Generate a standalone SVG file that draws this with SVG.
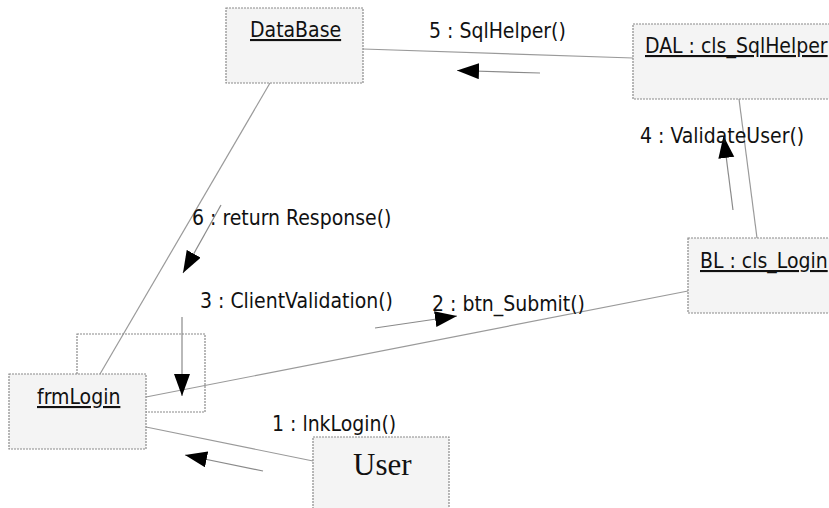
<svg xmlns="http://www.w3.org/2000/svg" width="829" height="508" viewBox="0 0 829 508">
<style>
.bg{fill:#ffffff}
.box{fill:#f4f4f4;stroke:#8a8a8a;stroke-width:1.2;stroke-dasharray:2 1}
.loop{fill:none;stroke:#8a8a8a;stroke-width:1.2;stroke-dasharray:2 1}
.ln{fill:none;stroke:#9a9a9a;stroke-width:1.2}
.msg{fill:none;stroke:#8a8a8a;stroke-width:1.2;marker-end:url(#ah)}
.t{font-family:"DejaVu Sans Condensed","DejaVu Sans",sans-serif;font-size:21px;fill:#111}
.u{text-decoration:underline}
.s{font-family:"Liberation Serif","Times New Roman",serif;font-size:31px;fill:#111}
</style>
<defs>
<marker id="ah" markerUnits="userSpaceOnUse" markerWidth="23" markerHeight="17" refX="22" refY="8" orient="auto">
<path d="M0,0 L22,8 L0,16 Z" fill="#000"/>
</marker>
</defs>
<rect class="bg" width="829" height="508"/>
<g id="connectors">
<line class="ln" x1="363" y1="49" x2="633" y2="58"/>
<line class="ln" x1="739" y1="99" x2="757" y2="238"/>
<line class="ln" x1="688" y1="291" x2="146" y2="397"/>
<line class="ln" x1="270" y1="83" x2="100" y2="374"/>
<line class="ln" x1="146" y1="427" x2="313" y2="461"/>
<rect class="loop" x="77" y="334" width="128" height="78"/>
<line class="msg" x1="540" y1="73" x2="457" y2="70.5"/>
<line class="msg" x1="733" y1="210" x2="723.5" y2="136"/>
<line class="msg" x1="221" y1="205" x2="183" y2="273"/>
<line class="msg" x1="182" y1="317" x2="182" y2="396"/>
<line class="msg" x1="375" y1="328" x2="457" y2="316"/>
<line class="msg" x1="263" y1="471" x2="185" y2="455"/>
<text class="t" x="429" y="38">5 : SqlHelper()</text>
<text class="t" x="640" y="143">4 : ValidateUser()</text>
<text class="t" x="192" y="225">6 : return Response()</text>
<text class="t" x="200" y="308">3 : ClientValidation()</text>
<text class="t" x="432" y="311">2 : btn_Submit()</text>
<text class="t" x="272" y="431">1 : lnkLogin()</text>
</g>
<g id="DataBase">
<rect class="box" x="226" y="8" width="137" height="75"/>
<text class="t u" x="250" y="37">DataBase</text>
</g>
<g id="DAL">
<rect class="box" x="633" y="24" width="210" height="75"/>
<text class="t u" x="645" y="53">DAL : cls_SqlHelper</text>
</g>
<g id="BL">
<rect class="box" x="688" y="238" width="160" height="75"/>
<text class="t u" x="700" y="268">BL : cls_Login</text>
</g>
<g id="frmLogin">
<rect class="box" x="9" y="374" width="137" height="75"/>
<text class="t u" x="37" y="404">frmLogin</text>
</g>
<g id="User">
<rect class="box" x="313" y="437" width="136" height="80"/>
<text class="s" x="353" y="475">User</text>
</g>
</svg>
